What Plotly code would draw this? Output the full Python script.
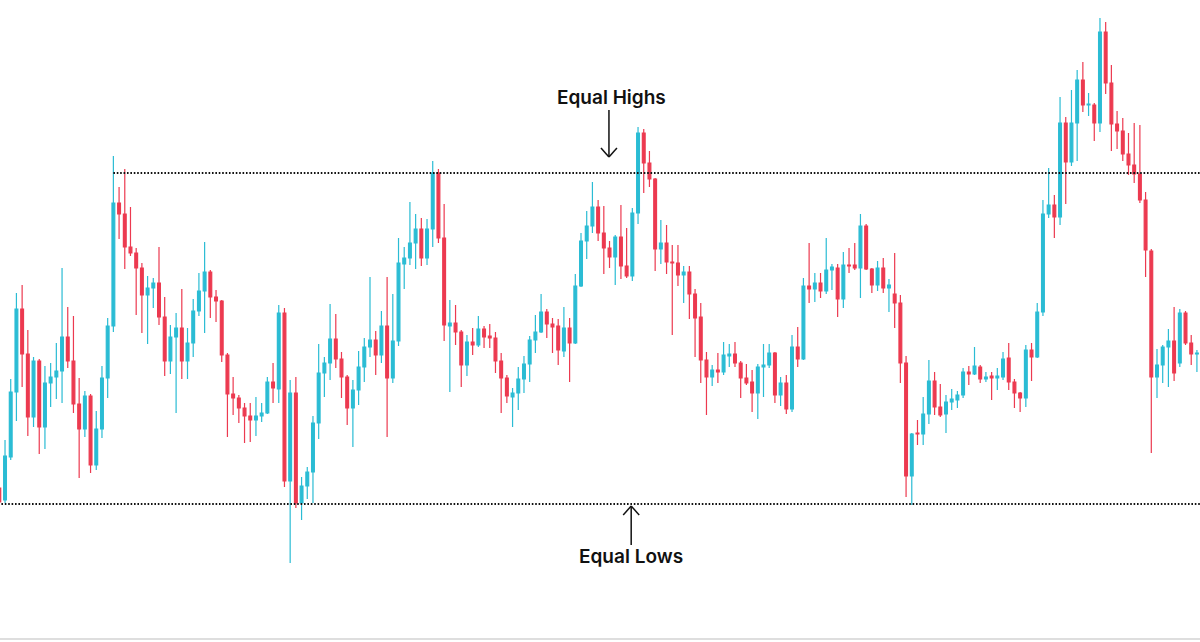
import plotly.graph_objects as go

# Candle readings taken off the reference chart, measured in points below the top reference level (TOP).
TOP = 650
open_read = [
    488, 500, 457, 392, 309, 354, 417, 361, 427, 383,
    377, 371, 337, 361, 404, 429, 396, 465, 429, 378,
    326, 203, 214, 247, 253, 268, 295, 288, 283, 317,
    361, 337, 328, 361, 343, 311, 291, 272, 297, 301,
    355, 394, 398, 408, 416, 420, 416, 413, 382, 389,
    313, 481, 393, 503, 486, 472, 423, 373, 363, 339,
    359, 377, 408, 390, 367, 347, 340, 355, 326, 378,
    341, 264, 258, 243, 229, 258, 229, 173, 238, 326,
    323, 332, 365, 342, 345, 329, 336, 338, 361, 378,
    397, 393, 379, 364, 340, 332, 312, 324, 326, 351,
    328, 343, 286, 241, 226, 207, 233, 248, 257, 237,
    266, 276, 213, 133, 163, 179, 249, 243, 262, 263,
    275, 272, 294, 317, 360, 377, 370, 372, 356, 354,
    363, 378, 382, 393, 367, 365, 353, 395, 383, 409,
    347, 359, 286, 289, 283, 291, 270, 268, 299, 265,
    265, 268, 226, 269, 285, 268, 288, 294, 303, 363,
    476, 433, 434, 414, 381, 407, 414, 402, 400, 395,
    372, 374, 367, 379, 376, 378, 377, 358, 382, 393,
    398, 350, 357, 312, 214, 205, 217, 123, 162, 123,
    80, 105, 105, 123, 32, 83, 124, 131, 154, 165,
    174, 200, 251, 377, 365, 347, 341, 363, 313, 343,
    354,
]
high_read = [
    480, 440, 379, 293, 285, 330, 357, 359, 366, 363,
    343, 268, 307, 316, 378, 391, 394, 411, 366, 318,
    156, 187, 169, 207, 248, 263, 276, 278, 247, 297,
    325, 313, 289, 328, 299, 273, 242, 270, 290, 300,
    353, 377, 395, 403, 403, 397, 403, 377, 363, 305,
    308, 380, 377, 477, 467, 416, 344, 357, 304, 314,
    352, 375, 380, 351, 338, 277, 331, 311, 277, 294,
    238, 247, 202, 214, 218, 219, 161, 169, 204, 300,
    305, 330, 335, 328, 316, 326, 324, 332, 353, 375,
    388, 367, 356, 336, 315, 294, 309, 318, 319, 307,
    318, 274, 233, 211, 182, 200, 206, 241, 235, 205,
    228, 208, 127, 129, 151, 178, 220, 225, 245, 245,
    266, 266, 289, 303, 352, 365, 353, 342, 344, 342,
    361, 364, 370, 364, 344, 344, 352, 377, 375, 335,
    327, 278, 243, 273, 273, 238, 264, 264, 252, 248,
    243, 214, 224, 268, 261, 258, 279, 253, 295, 356,
    433, 420, 397, 360, 372, 384, 395, 389, 391, 368,
    366, 347, 365, 372, 372, 368, 352, 343, 379, 392,
    345, 343, 303, 200, 168, 195, 97, 117, 90, 70,
    62, 93, 103, 18, 22, 65, 111, 118, 133, 123,
    125, 192, 249, 349, 345, 329, 307, 309, 311, 335,
    350,
]
low_read = [
    506, 503, 460, 421, 387, 436, 427, 454, 449, 407,
    399, 403, 368, 413, 478, 437, 473, 470, 438, 398,
    332, 239, 269, 256, 315, 333, 344, 308, 325, 376,
    374, 413, 379, 379, 357, 316, 333, 318, 322, 362,
    437, 415, 423, 443, 442, 436, 422, 414, 403, 403,
    487, 563, 508, 520, 499, 503, 439, 397, 380, 368,
    398, 425, 447, 405, 382, 357, 375, 363, 437, 383,
    346, 289, 265, 269, 266, 265, 247, 243, 341, 392,
    345, 387, 376, 355, 347, 348, 348, 373, 413, 403,
    427, 410, 393, 382, 353, 333, 338, 353, 365, 357,
    382, 344, 287, 259, 233, 241, 274, 268, 285, 279,
    278, 281, 224, 193, 187, 271, 264, 274, 335, 286,
    303, 319, 357, 383, 415, 386, 383, 375, 367, 367,
    398, 385, 412, 419, 397, 368, 403, 406, 414, 412,
    367, 360, 303, 302, 298, 294, 290, 317, 308, 273,
    270, 298, 270, 293, 291, 293, 312, 328, 383, 497,
    505, 445, 445, 424, 415, 417, 433, 410, 408, 398,
    385, 375, 383, 382, 400, 390, 380, 390, 408, 412,
    407, 381, 358, 316, 218, 238, 225, 204, 166, 161,
    112, 116, 141, 132, 94, 151, 149, 161, 175, 183,
    203, 277, 453, 398, 383, 387, 381, 367, 345, 365,
    372,
]
close_read = [
    502, 456, 392, 309, 354, 417, 361, 427, 383, 377,
    371, 337, 361, 404, 429, 396, 465, 429, 378, 326,
    203, 214, 247, 253, 268, 295, 288, 283, 317, 361,
    337, 328, 361, 343, 311, 291, 272, 297, 301, 355,
    394, 398, 408, 416, 420, 416, 413, 382, 388, 313,
    481, 393, 503, 486, 472, 423, 373, 363, 339, 359,
    377, 408, 390, 367, 347, 340, 355, 326, 378, 341,
    263, 258, 243, 229, 258, 229, 173, 238, 325, 323,
    332, 365, 342, 345, 329, 337, 338, 361, 378, 396,
    393, 379, 364, 340, 332, 312, 324, 327, 350, 328,
    343, 286, 241, 226, 207, 233, 248, 257, 237, 266,
    276, 213, 133, 163, 179, 249, 243, 262, 263, 275,
    272, 294, 318, 360, 377, 370, 372, 355, 354, 363,
    378, 383, 393, 367, 365, 353, 395, 383, 409, 347,
    359, 286, 289, 283, 291, 270, 267, 299, 265, 266,
    268, 226, 269, 285, 268, 288, 285, 303, 363, 476,
    434, 434, 414, 381, 407, 415, 402, 399, 395, 372,
    374, 366, 379, 377, 378, 376, 359, 382, 393, 398,
    350, 357, 312, 214, 205, 217, 123, 162, 123, 80,
    105, 104, 123, 32, 83, 124, 131, 154, 165, 174,
    200, 250, 377, 365, 347, 341, 373, 313, 343, 354,
    353,
]
equal_high_read = 173
equal_low_read = 504

open_p = [TOP - v for v in open_read]
high_p = [TOP - v for v in high_read]
low_p = [TOP - v for v in low_read]
close_p = [TOP - v for v in close_read]
idx = list(range(len(open_p)))
eq_high = TOP - equal_high_read
eq_low = TOP - equal_low_read

BLUE = "#2bbcd4"
RED = "#ec3a50"
INK = "#111111"

fig = go.Figure()
fig.add_trace(go.Candlestick(
    x=idx, open=open_p, high=high_p, low=low_p, close=close_p,
    increasing=dict(line=dict(color=BLUE, width=1.2), fillcolor=BLUE),
    decreasing=dict(line=dict(color=RED, width=1.2), fillcolor=RED),
    whiskerwidth=0, showlegend=False, hoverinfo="skip",
))

dot = dict(color=INK, width=1.8, dash="1.6px,1.8px")
fig.add_shape(type="line", xref="x", yref="y", x0=20, x1=215, y0=eq_high, y1=eq_high, line=dot, layer="above")
fig.add_shape(type="line", xref="x", yref="y", x0=-5, x1=215, y0=eq_low, y1=eq_low, line=dot, layer="above")
fig.add_shape(type="line", xref="paper", yref="paper", x0=0, x1=1, y0=0, y1=0,
              line=dict(color="#bdbdbd", width=1))

font = dict(family="Inter, Roboto, sans-serif", size=19, color=INK, weight=600)
fig.add_annotation(x=107.4, y=TOP - 97, xref="x", yref="y", text="Equal Highs",
                   showarrow=False, font=font)
fig.add_annotation(x=110.8, y=TOP - 556, xref="x", yref="y", text="Equal Lows",
                   showarrow=False, font=font)


def arrow(xc, y_tail, y_tip, head_dx, head_dy):
    ln = dict(color=INK, width=1.5)
    fig.add_shape(type="line", xref="x", yref="y", x0=xc, x1=xc, y0=y_tail, y1=y_tip, line=ln)
    for s in (-1, 1):
        fig.add_shape(type="line", xref="x", yref="y", x0=xc + s * head_dx, x1=xc,
                      y0=y_tip + head_dy, y1=y_tip, line=ln)


# down arrow toward the equal highs, up arrow toward the equal lows
arrow(106.9, eq_high + 63, eq_high + 16, 1.4, 9)
arrow(110.8, eq_low - 41, eq_low - 2, 1.4, -9)

fig.update_layout(
    width=1200, height=642,
    margin=dict(l=0, r=0, t=0, b=3),
    paper_bgcolor="white", plot_bgcolor="white",
    xaxis=dict(range=[0.12, 210.54], visible=False, rangeslider=dict(visible=False), fixedrange=True),
    yaxis=dict(range=[TOP - 639, TOP], visible=False, fixedrange=True),
)

fig.write_html("out.html", config={"displayModeBar": False},
               post_script="document.body.style.margin='0';document.body.style.overflow='hidden';")
